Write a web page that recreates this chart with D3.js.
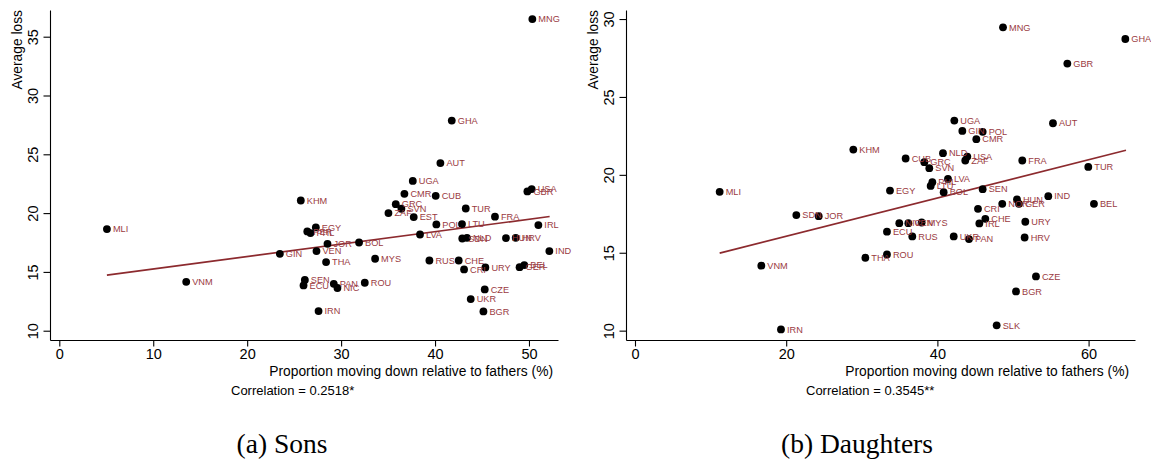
<!DOCTYPE html>
<html><head><meta charset="utf-8">
<script src="https://cdn.jsdelivr.net/npm/d3@7"></script>
<style>body{margin:0;background:#fff}svg{display:block}</style>
</head><body><svg id="c" width="1151" height="462"></svg>
<script>
// ---- Data: Sons ----
const sonsCodes = ["MNG","GHA","AUT","UGA","CMR","CUB","USA","GBR","KHM","GRC","SVN","TUR","FRA","ZAF","EST","POL","LTU","IRL","EGY","PER","PHL","LVA","SDN","NLD","HUN","HRV","IND","JOR","BOL","GIN","VEN","THA","MYS","RUS","CHE","CRI","URY","GER","BEL","SEN","ECU","PAN","NIC","ROU","CZE","UKR","IRN","BGR","MLI","VNM"];
const sonsDown = [50.36,41.78,40.57,37.63,36.74,40.07,50.29,49.83,25.71,35.82,36.42,43.27,46.38,35.04,37.73,40.14,42.87,51.00,27.31,26.40,26.74,38.40,42.90,43.40,47.55,48.59,52.17,28.55,31.91,23.48,27.38,28.40,33.62,39.40,42.52,43.09,45.36,49.00,49.50,26.14,26.00,29.22,29.61,32.52,45.29,43.80,27.60,45.15,5.07,13.51];
const sonsLoss = [36.50,27.87,24.25,22.74,21.64,21.47,22.04,21.84,21.07,20.76,20.37,20.39,19.70,20.00,19.66,19.04,19.07,18.98,18.78,18.44,18.30,18.18,17.84,17.90,17.88,17.90,16.77,17.39,17.50,16.54,16.77,15.84,16.12,15.97,15.97,15.21,15.38,15.40,15.58,14.31,13.85,13.99,13.63,14.08,13.51,12.69,11.67,11.64,18.64,14.16];
const sonsFitX = [5.07, 52.2];
const sonsFitY = [14.73, 19.71];
const sonsXTicks = [0,10,20,30,40,50];
const sonsYTicks = [10,15,20,25,30,35];

// ---- Data: Daughters ----
const dauCodes = ["MNG","GHA","GBR","UGA","GIN","POL","AUT","CMR","KHM","NLD","USA","ZAF","CUB","GRC","SVN","FRA","TUR","LVA","PHL","LTU","BOL","EGY","SEN","HUN","IND","NOR","GER","BEL","CRI","CHE","IRL","URY","NIC","VEN","MYS","ECU","RUS","UKR","PAN","HRV","ROU","THA","CZE","BGR","SLK","MLI","SDN","JOR","VNM","IRN"];
const dauDown = [48.68,64.86,57.19,42.24,43.30,45.99,55.29,45.15,28.88,40.74,43.96,43.69,35.80,38.27,38.93,51.23,59.96,41.40,39.33,39.11,40.83,33.73,45.99,50.53,54.67,48.58,50.79,60.71,45.37,46.34,45.55,51.63,34.96,36.16,37.92,33.33,36.68,42.16,44.18,51.54,33.33,30.47,53.04,50.40,47.84,11.20,21.34,24.30,16.71,19.31];
const dauLoss = [29.47,28.72,27.14,23.48,22.82,22.76,23.31,22.29,21.62,21.39,21.17,20.92,21.05,20.81,20.43,20.92,20.51,19.74,19.53,19.29,18.89,18.99,19.08,18.42,18.63,18.14,18.14,18.14,17.82,17.18,16.88,16.99,16.90,16.90,16.94,16.35,16.05,16.05,15.88,15.98,14.89,14.68,13.48,12.52,10.34,18.91,17.42,17.35,14.17,10.08];
const dauFitX = [11.2, 64.95];
const dauFitY = [14.98, 21.58];
const dauXTicks = [0,20,40,60];
const dauYTicks = [10,15,20,25,30];

const xTitle = "Proportion moving down relative to fathers (%)";
const yTitle = "Average loss";

const svg = d3.select("#c");
const FONT = "'Liberation Sans', Arial, Helvetica, sans-serif";
const labelColor = "#9a3b42";
const lineColor = "#8c2a2e";

function panel(o){
  const g = svg.append("g");
  const x = d3.scaleLinear().domain(o.xDom).range([o.left, o.right]);
  const y = d3.scaleLinear().domain(o.yDom).range([o.bottom, o.top]);
  const xa = g.append("g").attr("transform",`translate(0,${o.bottom})`)
    .call(d3.axisBottom(x).tickValues(o.xTicks).tickSize(6.5).tickSizeOuter(0).tickPadding(2));
  const ya = g.append("g").attr("transform",`translate(${o.left},0)`)
    .call(d3.axisLeft(y).tickValues(o.yTicks).tickSize(6.5).tickSizeOuter(0));
  [xa,ya].forEach(a=>{
    a.selectAll("path,line").attr("stroke","#000").attr("stroke-width",1.1);
    a.selectAll("text").attr("font-family",FONT).attr("font-size",14.5).attr("fill","#000");
  });
  xa.selectAll("text").attr("dy","0.72em");
  ya.selectAll(".tick text")
    .attr("text-anchor","middle").attr("x",null).attr("dy",null)
    .attr("transform","translate(-17,0) rotate(-90)")
    .attr("dominant-baseline","central");
  g.append("line")
    .attr("x1",x(o.fitX[0])).attr("y1",y(o.fitY[0]))
    .attr("x2",x(o.fitX[1])).attr("y2",y(o.fitY[1]))
    .attr("stroke",lineColor).attr("stroke-width",1.7);
  const data = o.codes.map((c,i)=>({c, xv:o.xs[i], yv:o.ys[i]}));
  g.selectAll("circle.pt").data(data).join("circle").attr("class","pt")
    .attr("cx",d=>x(d.xv)).attr("cy",d=>y(d.yv)).attr("r",3.9).attr("fill","#000");
  g.selectAll("text.lb").data(data).join("text").attr("class","lb")
    .attr("x",d=>x(d.xv)+6).attr("y",d=>y(d.yv)).attr("dy","0.35em")
    .attr("font-family",FONT).attr("font-size",9.2).attr("fill",labelColor)
    .text(d=>d.c);
  g.append("text").attr("x",o.xTitleEnd).attr("y",o.bottom+36).attr("text-anchor","end")
    .attr("font-family",FONT).attr("font-size",13.8).attr("fill","#000").text(xTitle);
  g.append("text").attr("transform",`translate(${o.left-28},${o.top}) rotate(-90)`)
    .attr("text-anchor","end").attr("font-family",FONT).attr("font-size",13.8).attr("fill","#000").text(yTitle);
  g.append("text").attr("x",o.corrX).attr("y",o.bottom+55)
    .attr("font-family",FONT).attr("font-size",13).attr("fill","#000").text(o.corr);
  g.append("text").attr("x",o.capX).attr("y",453).attr("text-anchor","middle")
    .attr("font-family","'Liberation Serif','DejaVu Serif',serif")
    .attr("font-size",27.5).attr("fill","#000").text(o.cap);
}

panel({left:50,right:558,top:10,bottom:340,xDom:[-0.99,53.09],yDom:[9.21,37.27],
  xTicks:sonsXTicks,yTicks:sonsYTicks,codes:sonsCodes,xs:sonsDown,ys:sonsLoss,
  fitX:sonsFitX,fitY:sonsFitY,xTitleEnd:553,corrX:231,corr:"Correlation = 0.2518*",
  capX:282,cap:"(a) Sons"});
panel({left:626,right:1135,top:10,bottom:340,xDom:[-1.19,66.14],yDom:[9.40,30.58],
  xTicks:dauXTicks,yTicks:dauYTicks,codes:dauCodes,xs:dauDown,ys:dauLoss,
  fitX:dauFitX,fitY:dauFitY,xTitleEnd:1129,corrX:806,corr:"Correlation = 0.3545**",
  capX:857,cap:"(b) Daughters"});
</script></body></html>
